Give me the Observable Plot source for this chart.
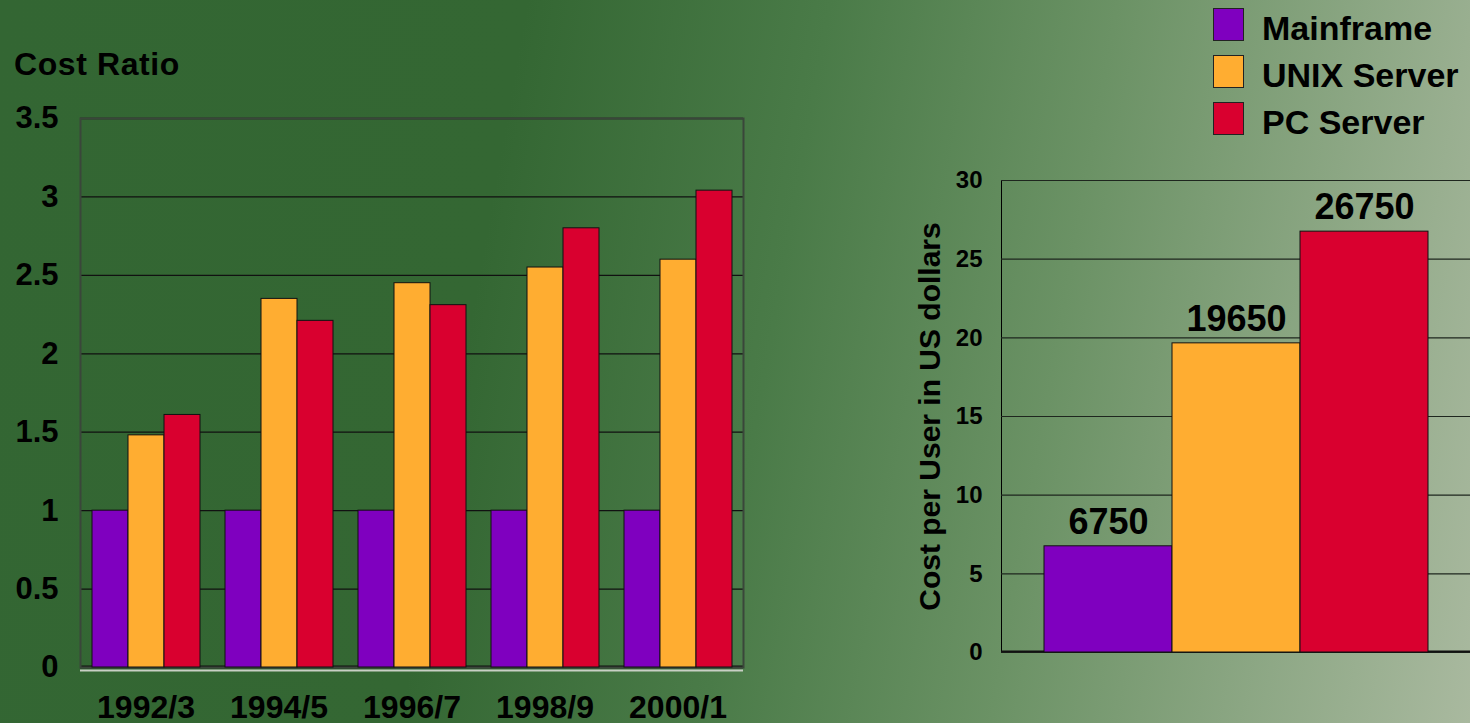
<!DOCTYPE html>
<html>
<head>
<meta charset="utf-8">
<script src="https://cdn.jsdelivr.net/npm/d3@7"></script>
<script src="https://cdn.jsdelivr.net/npm/@observablehq/plot@0.6"></script>
<style>
html, body { margin: 0; padding: 0; }
body {
  width: 1470px; height: 723px; overflow: hidden; position: relative;
  background: linear-gradient(100deg, #336633 0%, #346733 33%, #4a7b48 52%, #6b9265 70%, #a9b99f 100%);
  font-family: "Liberation Sans", Arial, sans-serif; font-weight: bold; color: #000;
}
.layer { position: absolute; top: 0; }
#left-bg, #left-fg { left: 0; width: 760px; height: 723px; }
#right { left: 900px; width: 570px; height: 723px; }
#ratioTitle { position: absolute; left: 14px; top: 48px; font-size: 32px; line-height: 1; letter-spacing: 0.6px; }
#legend { position: absolute; left: 1213px; top: 8px; }
.row { position: absolute; left: 0; height: 34px; display: flex; align-items: flex-start; white-space: nowrap; }
.sw { width: 31px; height: 33px; border: 1px solid #222; box-sizing: border-box; }
.lt { font-size: 34px; line-height: 34px; margin-left: 18px; padding-top: 3px; }
</style>
</head>
<body>
<div id="left-bg" class="layer"></div>
<div id="left-fg" class="layer"></div>
<div id="right" class="layer"></div>
<div id="ratioTitle">Cost Ratio</div>
<div id="legend"></div>
<script>
// ---- data ----
const periods = ["1992/3", "1994/5", "1996/7", "1998/9", "2000/1"];
const series = ["Mainframe", "UNIX Server", "PC Server"];
const seriesColors = ["#7f00bf", "#ffad31", "#d9002f"];
const mainframeRatio = [1, 1, 1, 1, 1];
const unixRatio = [1.48, 2.35, 2.45, 2.55, 2.60];
const pcRatio = [1.61, 2.21, 2.31, 2.80, 3.04];
const ratioTicks = [0, 0.5, 1, 1.5, 2, 2.5, 3, 3.5];
const costPerUser = [6750, 19650, 26750];
const costTicks = [0, 5, 10, 15, 20, 25, 30];
const yLabelRight = "Cost per User in US dollars";

const ratioSeries = [mainframeRatio, unixRatio, pcRatio];
const ratioRows = [];
periods.forEach((p, i) => series.forEach((s, j) => ratioRows.push({period: p, series: s, value: ratioSeries[j][i]})));
const costRows = series.map((s, j) => ({series: s, cost: costPerUser[j]}));

const font = "'Liberation Sans', Arial, sans-serif";

// ---- left chart: frame, grid and y axis ----
const leftBg = Plot.plot({
  width: 760, height: 723,
  marginLeft: 80, marginRight: 17, marginTop: 118, marginBottom: 56,
  style: {background: "transparent", fontFamily: font, fontWeight: "bold", fontSize: "31px", color: "#000", overflow: "visible"},
  y: {domain: [0, 3.5], ticks: ratioTicks, tickFormat: d => String(d), tickSize: 0, tickPadding: 22, label: null},
  marks: [
    Plot.ruleY(ratioTicks, {stroke: "#111", strokeWidth: 1.3}),
    Plot.ruleY([0], {stroke: "#c8cfc4", strokeWidth: 2, dy: 3}),
    Plot.ruleY([0], {stroke: "#111", strokeWidth: 2, dy: -1}),
    Plot.frame({stroke: "#3a463a", strokeWidth: 2})
  ]
});
document.getElementById("left-bg").appendChild(leftBg);

// ---- left chart: grouped bars ----
const leftFg = Plot.plot({
  width: 760, height: 723,
  marginLeft: 80, marginRight: 17, marginTop: 118, marginBottom: 56,
  style: {background: "transparent", fontFamily: font, fontWeight: "bold", fontSize: "32px", color: "#000", overflow: "visible"},
  facet: {data: ratioRows, x: "period"},
  fx: {domain: periods, paddingInner: 0.178, paddingOuter: 0.07, axis: "bottom", tickSize: 0, tickPadding: 28, label: null},
  x: {domain: series, padding: 0, axis: null},
  y: {domain: [0, 3.5], axis: null},
  color: {domain: series, range: seriesColors},
  marks: [
    Plot.barY(ratioRows, {x: "series", y: "value", fill: "series", stroke: "#111", strokeWidth: 1})
  ]
});
document.getElementById("left-fg").appendChild(leftFg);

// ---- right chart ----
const rightPlot = Plot.plot({
  width: 570, height: 723,
  marginLeft: 101, marginRight: 0, marginTop: 180, marginBottom: 71,
  style: {background: "transparent", fontFamily: font, fontWeight: "bold", fontSize: "24px", color: "#000", overflow: "visible"},
  x: {domain: series, paddingInner: 0, paddingOuter: 0.3225, axis: null},
  y: {domain: [0, 30], ticks: costTicks, tickSize: 0, tickPadding: 19, label: null, line: true},
  color: {domain: series, range: seriesColors},
  marks: [
    Plot.ruleY(costTicks, {stroke: "#1e261e", strokeWidth: 1.2}),
    Plot.ruleY([0], {stroke: "#111", strokeWidth: 2, dy: -1}),
    Plot.barY(costRows, {x: "series", y: d => d.cost / 1000, fill: "series", stroke: "#111", strokeWidth: 1}),
    Plot.text(costRows, {x: "series", y: d => d.cost / 1000, text: d => String(d.cost), dy: -24, fontSize: 36, fill: "#000"}),
    Plot.text([yLabelRight], {frameAnchor: "left", textAnchor: "middle", rotate: -90, dx: -71, fontSize: 30, fill: "#000"})
  ]
});
document.getElementById("right").appendChild(rightPlot);
d3.select(rightPlot).selectAll("[aria-label='y-axis line'], .domain").attr("stroke-width", 2.5).attr("stroke", "#000");

// ---- legend ----
const legend = document.getElementById("legend");
series.forEach((s, i) => {
  const row = document.createElement("div");
  row.className = "row";
  row.style.top = (i * 47) + "px";
  const sw = document.createElement("div");
  sw.className = "sw";
  sw.style.background = seriesColors[i];
  const t = document.createElement("div");
  t.className = "lt";
  t.textContent = s;
  row.appendChild(sw); row.appendChild(t);
  legend.appendChild(row);
});
</script>
</body>
</html>
